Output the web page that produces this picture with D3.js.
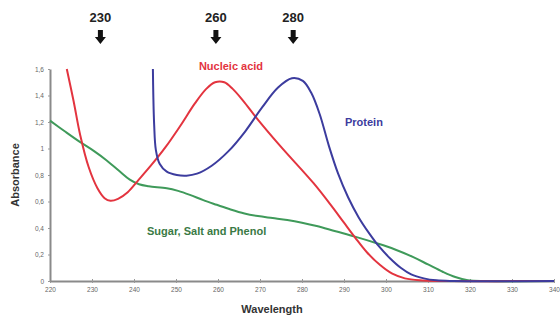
<!DOCTYPE html>
<html><head><meta charset="utf-8">
<script src="https://cdn.jsdelivr.net/npm/d3@7"></script>
<style>body{margin:0;background:#fff}svg{display:block}</style>
</head><body>
<svg id="c" width="560" height="322"></svg>
<script>
const xTicks = [220,230,240,250,260,270,280,290,300,310,320,330,340];
const yTicks = [0,0.2,0.4,0.6,0.8,1,1.2,1.4,1.6];
const nucleicAcid = [[224,1.60],[225.6,1.36],[227.2,1.10],[229.2,0.86],[231.3,0.70],[233,0.625],[234.4,0.605],[236.2,0.62],[238.5,0.67],[241,0.76],[244,0.87],[247.5,1.01],[251,1.17],[254.5,1.34],[257.2,1.45],[259.3,1.50],[261.5,1.50],[263.5,1.45],[266,1.36],[269.2,1.23],[274.8,1.02],[282.7,0.74],[286.7,0.58],[290,0.44],[292.6,0.33],[295.5,0.215],[298.6,0.12],[301.5,0.055],[304.5,0.02],[308,0.005],[314,0],[340,0]];
const protein = [[244.5,1.6],[244.6,1.4],[244.8,1.18],[245.2,0.99],[246.1,0.885],[247.8,0.825],[250.2,0.80],[252.5,0.795],[255,0.81],[258.5,0.87],[262.5,0.98],[266.5,1.13],[270.5,1.31],[274.3,1.46],[277.6,1.53],[280.2,1.51],[282.2,1.42],[284.2,1.26],[286.4,1.02],[288.6,0.81],[291,0.63],[293.5,0.48],[296,0.36],[298.5,0.255],[301,0.17],[303.5,0.10],[306,0.05],[309,0.02],[312,0.005],[316,0],[340,0]];
const sugarSaltPhenol = [[220,1.21],[223.5,1.13],[227.1,1.05],[230.5,0.98],[233.5,0.91],[236.5,0.83],[239,0.765],[241.2,0.73],[243.5,0.715],[247.8,0.70],[250.5,0.68],[253.3,0.65],[256.5,0.61],[259.7,0.575],[263,0.54],[266.3,0.51],[269.5,0.49],[273,0.475],[276.5,0.46],[280,0.44],[283.5,0.415],[288,0.375],[292.6,0.335],[297.8,0.285],[302,0.24],[306.5,0.18],[310,0.125],[313.5,0.07],[316.5,0.03],[319.5,0.005],[324,0],[340,0]];
const markers = [{label:"230",x:232},{label:"260",x:259.5},{label:"280",x:277.9}];

const svg = d3.select("#c");
const x = d3.scaleLinear().domain([220,340]).range([50,554]);
const y = d3.scaleLinear().domain([0,1.6]).range([281,69]);
const font = "'Liberation Sans', Arial, sans-serif";

// axes
const xa = svg.append("g").attr("transform","translate(0,281)")
  .call(d3.axisBottom(x).tickValues(xTicks).tickSize(2).tickSizeOuter(0).tickFormat(d3.format("d")));
xa.select(".domain").attr("stroke","#8a8a8a").attr("stroke-width",2);
xa.selectAll(".tick line").attr("stroke","#999").attr("y1",-2).attr("y2",2);
xa.selectAll(".tick text").attr("font-family",font).attr("font-size",6.5).attr("fill","#666").attr("dy","0.9em");

const ya = svg.append("g").attr("transform","translate(50,0)")
  .call(d3.axisLeft(y).tickValues(yTicks).tickSize(2).tickSizeOuter(0).tickFormat(d=>String(d).replace(".",",")));
ya.select(".domain").attr("stroke","#8a8a8a").attr("stroke-width",2);
ya.selectAll(".tick line").attr("stroke","#999");
ya.selectAll(".tick text").attr("font-family",font).attr("font-size",6.5).attr("fill","#666").attr("x",-6);

// lines
const line = d3.line().x(d=>x(d[0])).y(d=>y(d[1])).curve(d3.curveCatmullRom.alpha(0.5));
const series = [
  {data:sugarSaltPhenol,color:"#3f9a5a"},
  {data:nucleicAcid,color:"#e3343f"},
  {data:protein,color:"#3c3c9e"}
];
svg.selectAll("path.s").data(series).join("path").attr("class","s")
  .attr("d",d=>line(d.data)).attr("fill","none").attr("stroke",d=>d.color).attr("stroke-width",2);

// labels
svg.append("text").attr("x",231).attr("y",70).attr("text-anchor","middle").attr("font-family",font)
  .attr("font-weight","bold").attr("font-size",11).attr("fill","#e3343f").text("Nucleic acid");
svg.append("text").attr("x",345).attr("y",126).attr("font-family",font)
  .attr("font-weight","bold").attr("font-size",11).attr("fill","#3c3c9e").text("Protein");
svg.append("text").attr("x",147).attr("y",235).attr("font-family",font)
  .attr("font-weight","bold").attr("font-size",11).attr("fill","#3a7a45").text("Sugar, Salt and Phenol");

svg.append("text").attr("x",272).attr("y",313).attr("text-anchor","middle").attr("font-family",font)
  .attr("font-weight","bold").attr("font-size",11).attr("fill","#333").text("Wavelength");
svg.append("text").attr("transform","translate(19,175) rotate(-90)").attr("text-anchor","middle").attr("font-family",font)
  .attr("font-weight","bold").attr("font-size",11).attr("fill","#333").text("Absorbance");

// top markers
const mg = svg.selectAll("g.m").data(markers).join("g").attr("class","m")
  .attr("transform",d=>`translate(${x(d.x)},0)`);
mg.append("text").attr("y",22).attr("text-anchor","middle").attr("font-family",font)
  .attr("font-weight","bold").attr("font-size",13).attr("fill","#222").text(d=>d.label);
mg.append("path").attr("d","M-2.5,30 L2.5,30 L2.5,37 L5.5,37 L0,44 L-5.5,37 L-2.5,37 Z").attr("fill","#111");
</script>
</body></html>
